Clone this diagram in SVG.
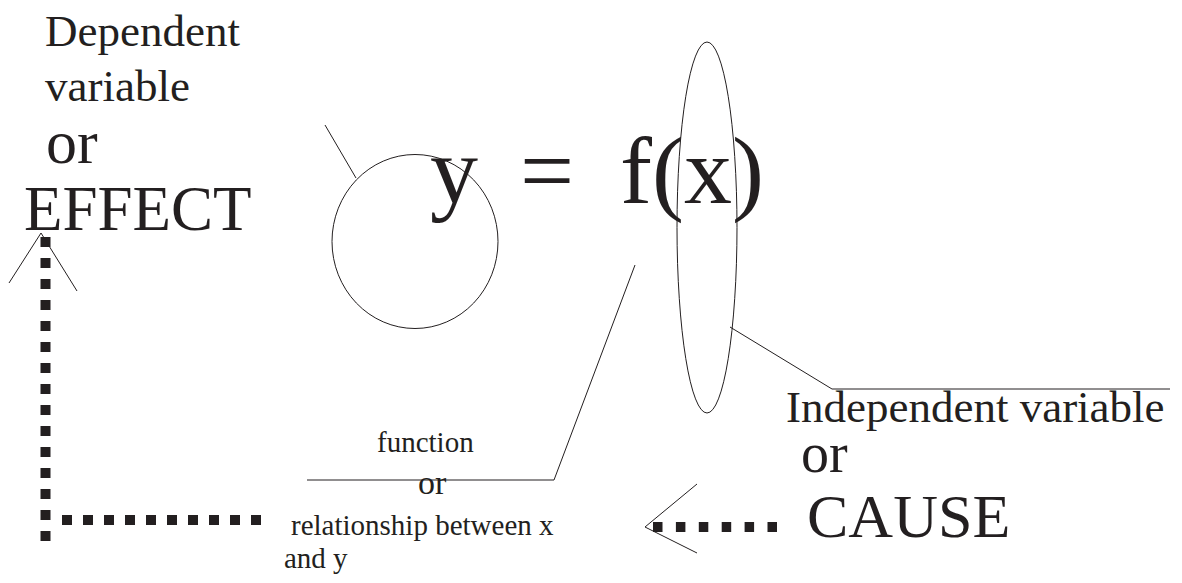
<svg xmlns="http://www.w3.org/2000/svg" width="1182" height="583" viewBox="0 0 1182 583">
<style>
text{font-family:"Liberation Serif","Times New Roman",serif;fill:#231f20}
.ln{fill:none;stroke:#231f20;stroke-width:1}
.dot{fill:none;stroke:#231f20;stroke-width:10}
</style>
<rect width="1182" height="583" fill="#ffffff"/>
<g id="dependent">
<text x="45" y="46" font-size="45">Dependent</text>
<text x="45" y="101" font-size="45">variable</text>
<text x="46" y="163" font-size="62">or</text>
<text x="24" y="230" font-size="63">EFFECT</text>
</g>
<g id="equation">
<text x="430" y="203" font-size="96">y</text>
<text x="520" y="203" font-size="96">=</text>
<text x="620" y="203" font-size="96">f(x)</text>
</g>
<g id="y-circle">
<ellipse class="ln" cx="415" cy="241.5" rx="83" ry="87"/>
</g>
<g id="x-ellipse">
<ellipse class="ln" cx="707" cy="227.5" rx="30" ry="185.5"/>
</g>
<g id="independent">
<text x="786" y="422" font-size="45">Independent variable</text>
<text x="801" y="472" font-size="56">or</text>
<text x="807" y="537" font-size="62">CAUSE</text>
</g>
<g id="function">
<text x="377" y="452" font-size="29">function</text>
<text x="418" y="494" font-size="34">or</text>
<text x="291" y="535" font-size="29">relationship between x</text>
<text x="284" y="568" font-size="29">and y</text>
</g>
<g id="connectors">
<line class="ln" x1="325" y1="125" x2="356" y2="178"/>
<polyline class="ln" points="730,327 832,389 1170,389"/>
<polyline class="ln" points="307,480 554,480 635,265"/>
<line class="dot" x1="45.5" y1="237" x2="45.5" y2="542" stroke-dasharray="10 11"/>
<line class="dot" x1="62" y1="520" x2="262" y2="520" stroke-dasharray="10 11"/>
<polyline class="ln" points="9,283 41,233 77,291"/>
<line class="dot" x1="653" y1="527" x2="777" y2="527" stroke-dasharray="9.5 13.4"/>
<polyline class="ln" points="697,484 645,527 697,553"/>
</g>
</svg>
